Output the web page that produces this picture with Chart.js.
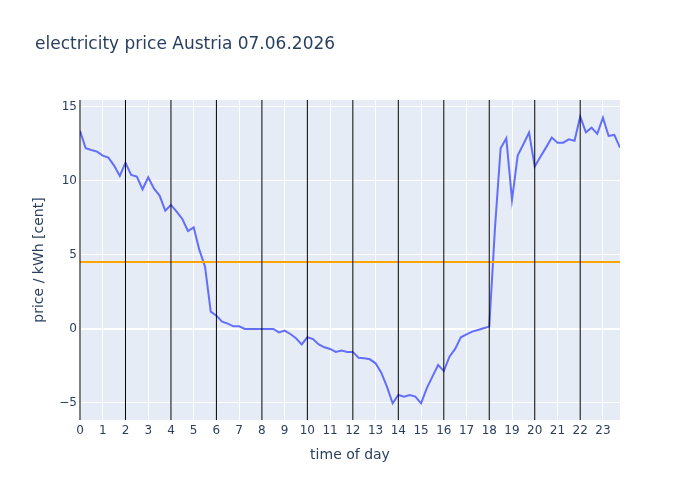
<!DOCTYPE html>
<html>
<head>
<meta charset="utf-8">
<script src="https://cdn.jsdelivr.net/npm/chart.js@4.4.1/dist/chart.umd.min.js"></script>
<style>
  html, body { margin: 0; padding: 0; background: #fff; }
  #wrap { width: 700px; height: 500px; }
</style>
</head>
<body>
<div id="wrap"><canvas id="priceChart" width="700" height="500"></canvas></div>
<script>
// quarter-hour prices in cent / kWh
const prices = [
    13.38, 12.21, 12.09, 11.98, 11.71, 11.58, 11.04, 10.34,
    11.24, 10.41, 10.29, 9.44, 10.25, 9.50, 9.01, 7.99,
    8.38, 7.93, 7.43, 6.62, 6.87, 5.34, 4.21, 1.17,
    0.90, 0.49, 0.36, 0.18, 0.18, 0.00, 0.00, 0.00,
    0.00, 0.00, 0.00, -0.23, -0.11, -0.34, -0.63, -1.04,
    -0.56, -0.68, -1.04, -1.24, -1.35, -1.55, -1.46, -1.55,
    -1.55, -1.94, -1.98, -2.05, -2.32, -2.95, -3.90, -5.02,
    -4.46, -4.57, -4.46, -4.57, -5.02, -4.01, -3.22, -2.43,
    -2.84, -1.87, -1.35, -0.56, -0.36, -0.18, -0.07, 0.05,
    0.16, 6.80, 12.21, 12.88, 8.72, 11.71, 12.48, 13.27,
    10.97, 11.64, 12.27, 12.93, 12.59, 12.59, 12.81, 12.72,
    14.35, 13.29, 13.60, 13.18, 14.28, 13.04, 13.11, 12.25
];
// time of each quarter hour (0, 0.25, ... 23.75)
const quarterHours = prices.map((p, i) => i / 4);

const averagePrice = 4.53;
const markerHours = [0, 2, 4, 6, 8, 10, 12, 14, 16, 18, 20, 22];
const xTicks = [0, 1, 2, 3, 4, 5, 6, 7, 8, 9, 10, 11, 12, 13, 14, 15, 16, 17, 18, 19, 20, 21, 22, 23];
const yTicks = [-5, 0, 5, 10, 15];

const fontFamily = '"DejaVu Sans", verdana, arial, sans-serif';
const textColor = '#2a3f5f';

// plot background, hour markers and texts, plotly style
const plotStyle = {
    id: 'plotStyle',
    beforeDraw(chart) {
        const { ctx, chartArea } = chart;
        ctx.save();
        ctx.fillStyle = '#E5ECF6';
        ctx.fillRect(chartArea.left, chartArea.top, chartArea.right - chartArea.left, chartArea.bottom - chartArea.top);
        ctx.restore();
    },
    afterDatasetsDraw(chart) {
        const { ctx, chartArea, scales } = chart;
        ctx.save();
        ctx.strokeStyle = '#000';
        ctx.lineWidth = 1;
        markerHours.forEach(h => {
            const x = scales.x.getPixelForValue(h);
            ctx.beginPath();
            ctx.moveTo(x, chartArea.top);
            ctx.lineTo(x, chartArea.bottom);
            ctx.stroke();
        });
        ctx.restore();
    },
    afterDraw(chart) {
        const { ctx, chartArea } = chart;
        ctx.save();
        ctx.fillStyle = textColor;
        ctx.textBaseline = 'middle';
        ctx.font = '17px ' + fontFamily;
        ctx.textAlign = 'left';
        ctx.fillText('electricity price Austria 07.06.2026', 35, 45);

        ctx.font = '14px ' + fontFamily;
        ctx.textAlign = 'center';
        ctx.fillText('time of day', (chartArea.left + chartArea.right) / 2, 455);

        ctx.translate(39, (chartArea.top + chartArea.bottom) / 2);
        ctx.rotate(-Math.PI / 2);
        ctx.fillText('price / kWh [cent]', 0, 0);
        ctx.restore();
    }
};

const ctx = document.getElementById('priceChart').getContext('2d');

new Chart(ctx, {
    type: 'line',
    data: {
        datasets: [{
            label: 'average',
            data: [{ x: 0, y: averagePrice }, { x: 23.75, y: averagePrice }],
            borderColor: '#FFA500',
            borderWidth: 2,
            pointRadius: 0,
            order: 0
        }, {
            label: 'price',
            data: quarterHours.map((h, i) => ({ x: h, y: prices[i] })),
            borderColor: '#636efa',
            borderWidth: 2,
            pointRadius: 0,
            tension: 0,
            order: 1
        }]
    },
    options: {
        responsive: false,
        animation: false,
        layout: {
            padding: { left: 0, right: 80, top: 100, bottom: 0 }
        },
        plugins: {
            legend: { display: false },
            tooltip: { enabled: false }
        },
        scales: {
            x: {
                type: 'linear',
                min: 0,
                max: 23.75,
                afterFit: scale => { scale.height = 80; },
                afterBuildTicks: scale => { scale.ticks = xTicks.map(v => ({ value: v })); },
                border: { display: false },
                grid: { color: '#ffffff', lineWidth: 1, drawTicks: false },
                ticks: {
                    padding: 4,
                    maxRotation: 0,
                    autoSkip: false,
                    color: textColor,
                    font: { family: fontFamily, size: 12 }
                }
            },
            y: {
                min: -6.15,
                max: 15.47,
                afterFit: scale => { scale.width = 80; },
                afterBuildTicks: scale => { scale.ticks = yTicks.map(v => ({ value: v })); },
                border: { display: false },
                grid: {
                    color: '#ffffff',
                    lineWidth: c => (c.tick && c.tick.value === 0 ? 2 : 1),
                    drawTicks: false
                },
                ticks: {
                    padding: 3,
                    color: textColor,
                    font: { family: fontFamily, size: 12 },
                    callback: v => (v < 0 ? '\u2212' + Math.abs(v) : String(v))
                }
            }
        }
    },
    plugins: [plotStyle]
});
</script>
</body>
</html>
